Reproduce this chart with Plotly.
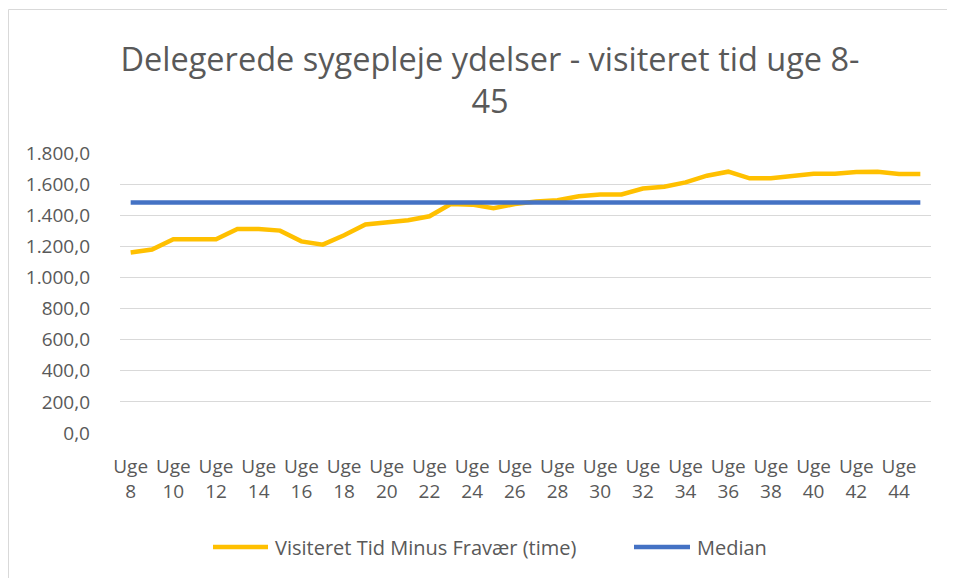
import plotly.graph_objects as go

weeks = list(range(8, 46))
categories = [f"Uge {w}" for w in weeks]
visiteret = [1161, 1179, 1245, 1245, 1245, 1312, 1312, 1301, 1232, 1211,
             1271, 1340, 1353, 1368, 1393, 1472, 1468, 1445, 1472, 1488,
             1496, 1522, 1533, 1533, 1572, 1583, 1611, 1654, 1680, 1637,
             1637, 1652, 1667, 1667, 1678, 1680, 1665, 1665]
median_value = 1482
median = [median_value] * len(weeks)
tick_vals = categories[::2]
tick_text = [f"Uge<br>{w}" for w in weeks[::2]]
series_names = ["Visiteret Tid Minus Fravær (time)", "Median"]
series_colors = ["#FFC000", "#4472C4"]

# page has an 8px body margin, so figure coords = screen coords - 8
W, H = 955, 578
L, T = 112, 145
pw, ph = 811, 280
R, B = W - L - pw, H - T - ph

def px_x(p):
    return (p - L) / pw

def px_y(p):
    return (H - B - p) / ph

grey = "#595959"
font_family = "Open Sans, Noto Sans, sans-serif"
fs = 19

fig = go.Figure()
fig.add_trace(go.Scatter(
    x=categories, y=visiteret, mode="lines",
    name=series_names[0], showlegend=False,
    line=dict(color=series_colors[0], width=4.5),
))
fig.add_trace(go.Scatter(
    x=categories, y=median, mode="lines",
    name=series_names[1], showlegend=False,
    line=dict(color=series_colors[1], width=4.5),
))

# manual legend (line swatch + text), positioned like the reference
leg_y = 539
legend_items = [(205, 260, 265), (626, 682, 687)]
shapes = []
annotations = []
for (x0, x1, xt), name, col in zip(legend_items, series_names, series_colors):
    shapes.append(dict(type="line", xref="paper", yref="paper",
                       x0=px_x(x0), x1=px_x(x1), y0=px_y(leg_y), y1=px_y(leg_y),
                       line=dict(color=col, width=4.5)))
    annotations.append(dict(text=name, xref="paper", yref="paper",
                            x=px_x(xt), y=px_y(leg_y), xanchor="left",
                            yanchor="middle", showarrow=False,
                            font=dict(size=20, color=grey)))

# chart-area border (top and left visible)
shapes.append(dict(type="line", xref="paper", yref="paper",
                   x0=px_x(0.5), x1=px_x(W + 10), y0=px_y(1.5), y1=px_y(1.5),
                   line=dict(color="#D9D9D9", width=1)))
shapes.append(dict(type="line", xref="paper", yref="paper",
                   x0=px_x(0.5), x1=px_x(0.5), y0=px_y(1.5), y1=px_y(H + 10),
                   line=dict(color="#D9D9D9", width=1)))

fig.update_layout(
    width=W, height=H,
    margin=dict(l=L, r=R, t=T, b=B, autoexpand=False),
    paper_bgcolor="white", plot_bgcolor="white",
    separators=",.",
    font=dict(family=font_family, color=grey, size=fs),
    showlegend=False,
    title=dict(
        text="Delegerede sygepleje ydelser - visiteret tid uge 8-<br>45",
        x=482 / W, xref="container", xanchor="center",
        y=1 - 63 / H, yref="container", yanchor="top",
        font=dict(size=32.5, color=grey, family=font_family),
    ),
    xaxis=dict(
        type="category", range=[-0.5, len(weeks) - 0.5],
        tickmode="array", tickvals=tick_vals, ticktext=tick_text,
        tickangle=0, showgrid=False, zeroline=False,
        showline=False, ticks="", ticklabelstandoff=20,
        tickfont=dict(size=fs, color=grey),
    ),
    yaxis=dict(
        range=[0, 1800], dtick=200, tickformat=",.1f",
        showgrid=True, gridcolor="#D9D9D9", gridwidth=1,
        zeroline=False, showline=False, ticks="",
        ticklabelstandoff=29,
        tickfont=dict(size=fs, color=grey),
    ),
    shapes=shapes,
    annotations=annotations,
)

fig.write_html("out.html")
